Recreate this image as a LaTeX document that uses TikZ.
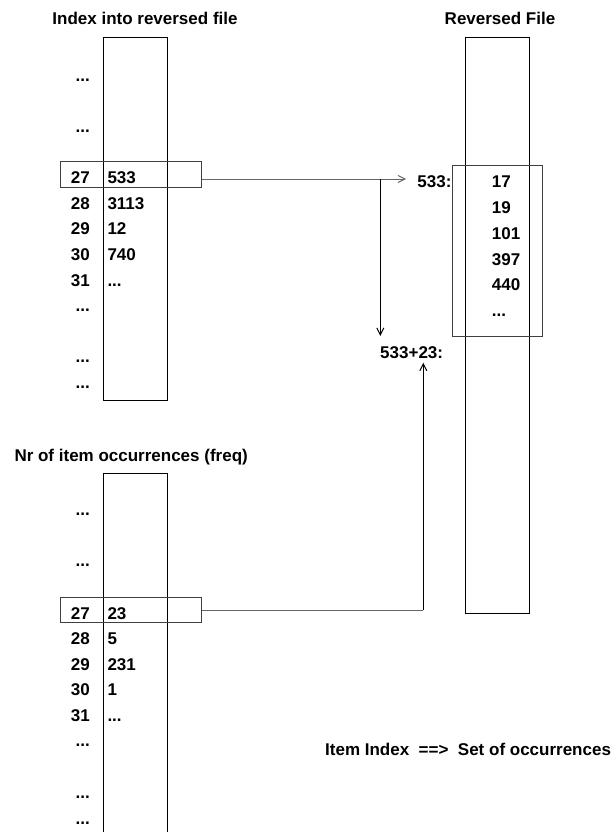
\documentclass[tikz,border=0pt]{standalone}
\usepackage{fontspec}
\setmainfont{Liberation Sans}
\usetikzlibrary{arrows.meta}
\begin{document}
\begin{tikzpicture}[x=1pt,y=-1pt,
  txt/.style={font=\fontsize{17}{20}\selectfont\bfseries, inner sep=0pt},
  colbox/.style={draw=black, line width=1pt, inner sep=0pt, rectangle},
  hlbox/.style={draw=black!75, line width=1pt, inner sep=0pt, rectangle},
  garr/.style={draw=black!60, line width=1pt, -{Straight Barb[length=7pt,width=7pt]}},
  barr/.style={draw=black, line width=1pt, -{Straight Barb[length=7pt,width=7pt]}},
  gline/.style={draw=black!60, line width=1pt}]
\useasboundingbox (0,0) rectangle (611,832);
% titles
\node[txt, anchor=base] (t1) at (145,25) {Index into reversed file};
\node[txt, anchor=base] (t2) at (500,25) {Reversed File};
\node[txt, anchor=base west] (t3) at (14.3,461.7) {Nr of item occurrences (freq)};
\node[txt, anchor=base west] (t4) at (325,755) {Item Index\ \ ==>\ \ Set of occurrences};
% columns
\node[colbox, minimum width=64pt, minimum height=363pt] (colA) at (135.3,219.2) {};
\node[colbox, minimum width=64.4pt, minimum height=575.8pt] (colR) at (497.5,325.6) {};
\draw[line width=1pt] (103.3,840) -- (103.3,473.3) coordinate (colBtl) -- (167.3,473.3) -- (167.3,840);
% highlight boxes
\node[hlbox, minimum width=141pt, minimum height=26pt] (hlA) at (130.8,174.7) {};
\node[hlbox, minimum width=141pt, minimum height=25pt] (hlB) at (130.8,609.8) {};
\node[hlbox, minimum width=89.6pt, minimum height=171pt] (hlR) at (497.5,251.2) {};
% upper table
\node[txt, anchor=base east] (a0) at (90,81.7) {...};
\node[txt, anchor=base east] (a1) at (90,132.3) {...};
\node[txt, anchor=base east] (a27) at (90,183) {27};
\node[txt, anchor=base east] (a28) at (90,209) {28};
\node[txt, anchor=base east] (a29) at (90,234.7) {29};
\node[txt, anchor=base east] (a30) at (90,260.3) {30};
\node[txt, anchor=base east] (a31) at (90,286) {31};
\node[txt, anchor=base east] (a32) at (90,311.5) {...};
\node[txt, anchor=base east] (a33) at (90,362.5) {...};
\node[txt, anchor=base east] (a34) at (90,388.3) {...};
\node[txt, anchor=base west] (v27) at (107.3,183) {533};
\node[txt, anchor=base west] (v28) at (107.3,209) {3113};
\node[txt, anchor=base west] (v29) at (107.3,234.7) {12};
\node[txt, anchor=base west] (v30) at (107.3,260.3) {740};
\node[txt, anchor=base west] (v31) at (107.3,286) {...};
% lower table
\node[txt, anchor=base east] (b0) at (90,515) {...};
\node[txt, anchor=base east] (b1) at (90,566.7) {...};
\node[txt, anchor=base east] (b27) at (90,619) {27};
\node[txt, anchor=base east] (b28) at (90,644.3) {28};
\node[txt, anchor=base east] (b29) at (90,670) {29};
\node[txt, anchor=base east] (b30) at (90,695.5) {30};
\node[txt, anchor=base east] (b31) at (90,721) {31};
\node[txt, anchor=base east] (b32) at (90,746.7) {...};
\node[txt, anchor=base east] (b33) at (90,798.3) {...};
\node[txt, anchor=base east] (b34) at (90,824) {...};
\node[txt, anchor=base west] (w27) at (107.3,619) {23};
\node[txt, anchor=base west] (w28) at (107.3,644.3) {5};
\node[txt, anchor=base west] (w29) at (107.3,670) {231};
\node[txt, anchor=base west] (w30) at (107.3,695.5) {1};
\node[txt, anchor=base west] (w31) at (107.3,721) {...};
% reversed file entries
\node[txt, anchor=base east] (r533) at (451.7,187.7) {533:};
\node[txt, anchor=base west] (r1) at (491.7,187.7) {17};
\node[txt, anchor=base west] (r2) at (491.7,213.3) {19};
\node[txt, anchor=base west] (r3) at (491.7,239.3) {101};
\node[txt, anchor=base west] (r4) at (491.7,265) {397};
\node[txt, anchor=base west] (r5) at (491.7,290.7) {440};
\node[txt, anchor=base west] (r6) at (491.7,316) {...};
\node[txt, anchor=base east] (r556) at (443.3,358.3) {533+23:};
% connectors
\coordinate (tipA) at (406,179);
\coordinate (jA) at (380.3,179);
\coordinate (tipD) at (380.3,336);
\coordinate (jB) at (423.3,610.3);
\coordinate (tipU) at (423.3,362.7);
\draw[garr] (hlA.east |- tipA) -- (tipA);
\draw[barr] (jA) -- (tipD);
\draw[gline] (hlB.east |- jB) -- (jB);
\draw[barr] (jB) -- (tipU);
\end{tikzpicture}
\end{document}
